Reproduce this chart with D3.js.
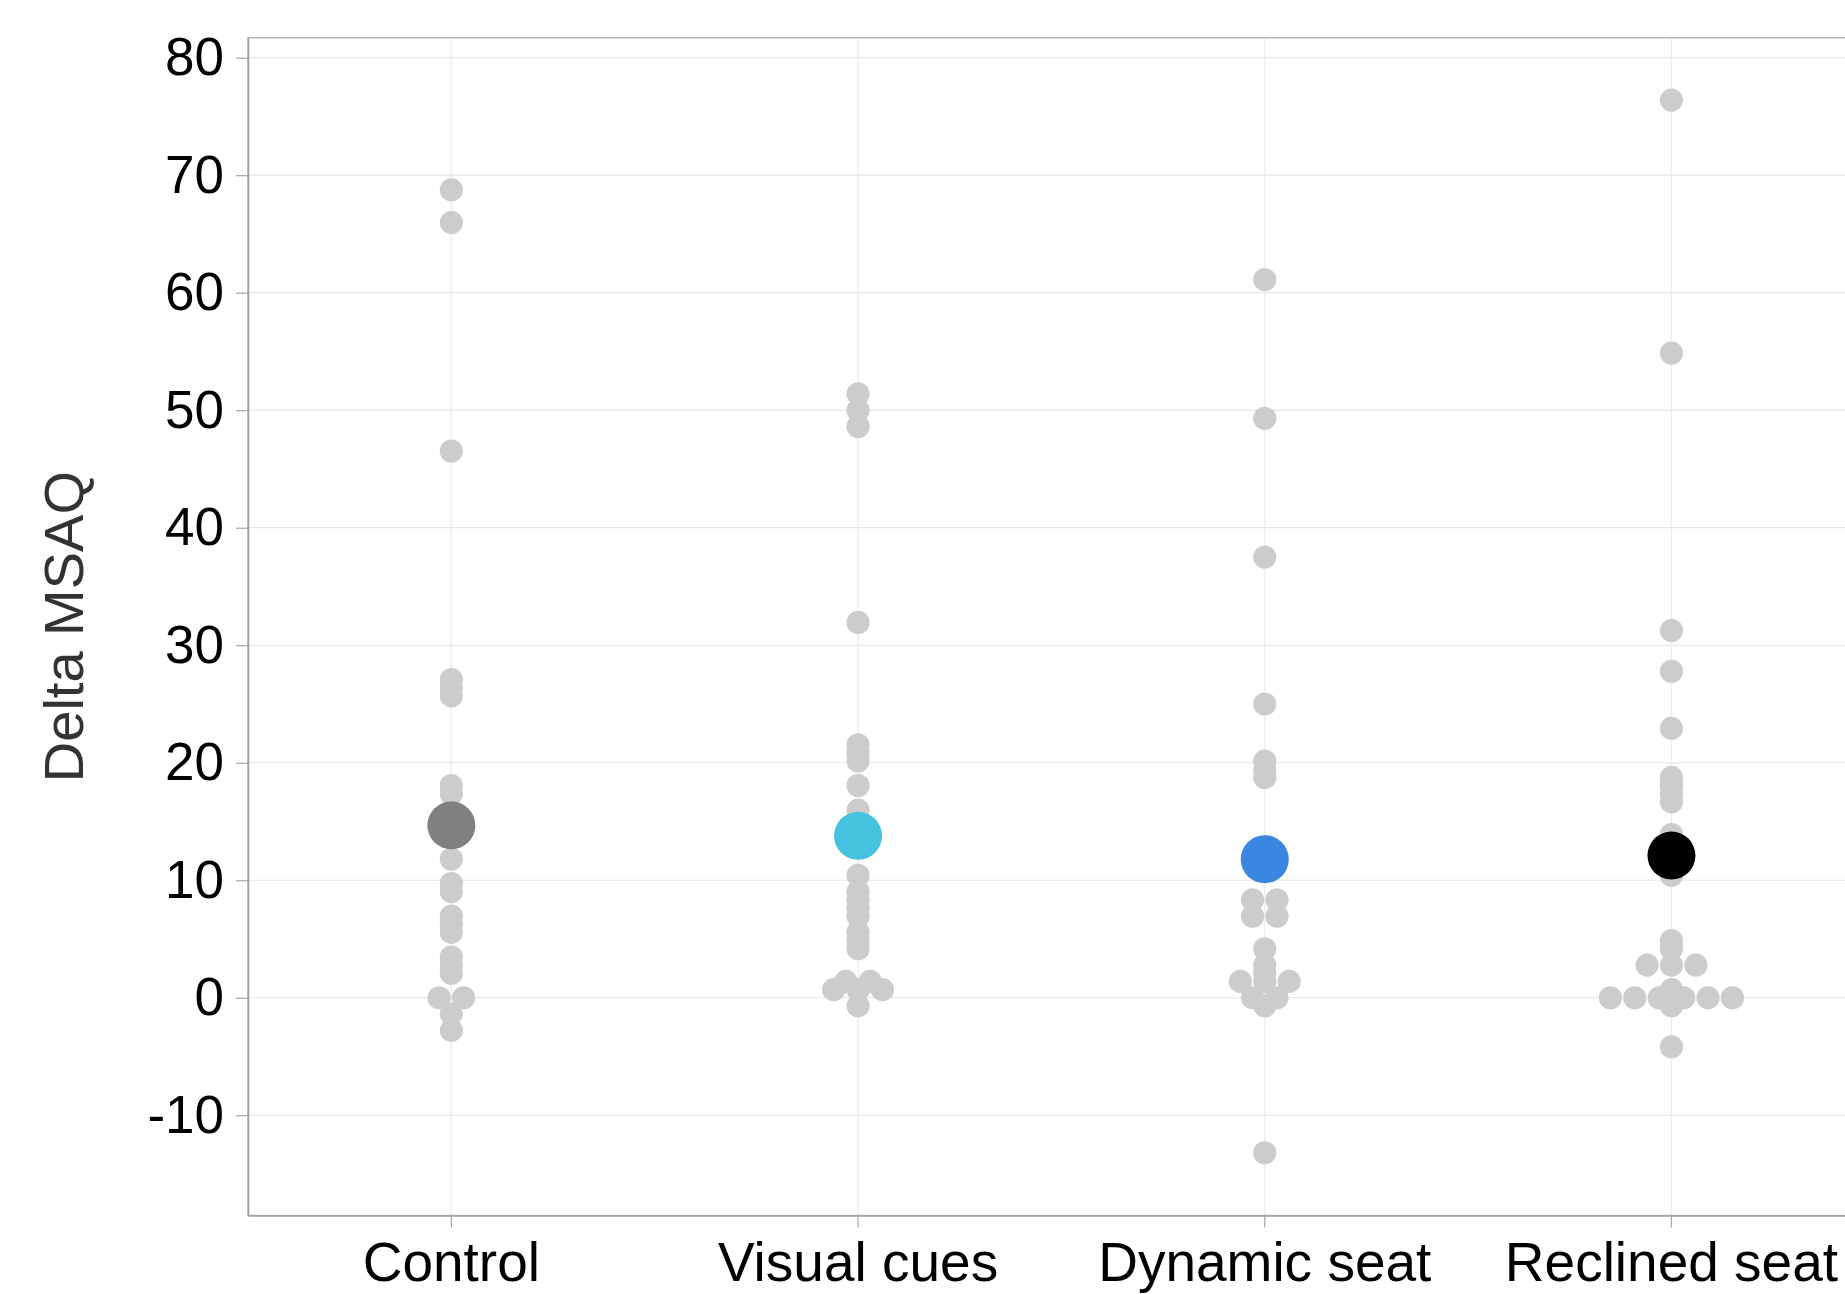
<!DOCTYPE html>
<html><head><meta charset="utf-8">
<script src="https://cdn.jsdelivr.net/npm/d3@7"></script>
<style>body{margin:0;background:#fff;overflow:hidden}</style>
</head><body>
<svg id="chart" width="1845" height="1294"></svg>
<script>
// ---- data (Delta MSAQ) ----
const categories = ["Control", "Visual cues", "Dynamic seat", "Reclined seat"];
const controlValues  = [68.75, 65.97, 46.53, 27.08, 26.39, 25.69, 18.06, 17.36, 11.81, 9.72, 9.03, 6.94, 6.25, 5.56, 3.47, 2.78, 2.08, 0, 0, -1.39, -2.78];
const visualValues   = [51.39, 50.0, 48.61, 31.94, 21.53, 20.83, 20.14, 18.06, 15.97, 10.42, 9.03, 8.33, 7.64, 6.94, 5.56, 4.86, 4.17, 1.39, 1.39, 0.69, 0.69, 0.69, -0.69];
const dynamicValues  = [61.11, 49.31, 37.5, 25.0, 20.14, 19.44, 18.75, 8.33, 8.33, 6.94, 6.94, 4.17, 2.78, 2.08, 1.39, 1.39, 1.39, 0, 0, -0.69, -13.19];
const reclinedValues = [76.39, 54.86, 31.25, 27.78, 22.92, 18.75, 18.06, 17.36, 16.67, 13.89, 10.42, 4.86, 4.17, 2.78, 2.78, 2.78, 0.69, 0, 0, 0, 0, 0, 0, -0.69, -4.17];
const meanValues = [14.67, 13.78, 11.79, 12.1];
const meanColors = ["#808080", "#45c2e0", "#3a86e0", "#000000"];
const yTicks = [-10, 0, 10, 20, 30, 40, 50, 60, 70, 80];
const yTitle = "Delta MSAQ";

const seriesValues = [controlValues, visualValues, dynamicValues, reclinedValues];

// ---- layout ----
const plotLeft = 248, plotTop = 37.7, plotBottom = 1215.5, step = 406.7;
const font = "'Liberation Sans', Arial, Helvetica, sans-serif";
const svg = d3.select("#chart");

const x = d3.scaleBand().domain(categories)
  .range([plotLeft, plotLeft + step * categories.length]).padding(0);
const y = d3.scaleLinear().domain([-18.53, 81.70]).range([plotBottom, plotTop]);
const xc = c => x(c) + x.bandwidth() / 2;
const plotRight = plotLeft + step * categories.length;

// grid
const grid = svg.append("g");
grid.selectAll("line.h").data(yTicks).join("line")
  .attr("x1", plotLeft).attr("x2", plotRight)
  .attr("y1", d => y(d)).attr("y2", d => y(d))
  .attr("stroke", "#e6e6e6").attr("stroke-width", 1.2);
grid.selectAll("line.v").data(categories).join("line")
  .attr("x1", d => xc(d)).attr("x2", d => xc(d))
  .attr("y1", plotTop).attr("y2", plotBottom)
  .attr("stroke", "#ececec").attr("stroke-width", 1.2);

// panel border
svg.append("rect").attr("x", plotLeft).attr("y", plotTop)
  .attr("width", plotRight - plotLeft).attr("height", plotBottom - plotTop)
  .attr("fill", "none").attr("stroke", "#b3b3b3").attr("stroke-width", 1.4);

// axes
const yAxis = svg.append("g").attr("transform", `translate(${plotLeft},0)`)
  .call(d3.axisLeft(y).tickValues(yTicks).tickSizeInner(12).tickSizeOuter(0).tickPadding(12));
yAxis.select(".domain").attr("stroke", "#a0a0a0").attr("stroke-width", 1.6);
yAxis.selectAll(".tick line").attr("stroke", "#a6a6a6").attr("stroke-width", 1.2);
yAxis.selectAll(".tick text").attr("font-family", font).attr("font-size", 53).attr("fill", "#000")
  .text(d => d < 0 ? "-" + Math.abs(d) : d);

const xAxis = svg.append("g").attr("transform", `translate(0,${plotBottom})`)
  .call(d3.axisBottom(x).tickSizeInner(12).tickSizeOuter(0).tickPadding(14));
xAxis.select(".domain").attr("stroke", "#a0a0a0").attr("stroke-width", 1.6);
xAxis.selectAll(".tick line").attr("stroke", "#a6a6a6").attr("stroke-width", 1.2);
xAxis.selectAll(".tick text").attr("font-family", font).attr("font-size", 55).attr("fill", "#000")
  .attr("dy", "0.71em");

// y title
svg.append("text")
  .attr("transform", `translate(82.5,${(plotTop + plotBottom) / 2}) rotate(-90)`)
  .attr("text-anchor", "middle").attr("font-family", font).attr("font-size", 56)
  .attr("fill", "#333").text(yTitle);

// points: identical values spread horizontally, centred on the category
const spacing = 24.4;
const pts = [];
seriesValues.forEach((vals, ci) => {
  const groups = d3.group(vals, v => v.toFixed(2));
  for (const [, arr] of groups) {
    arr.forEach((v, j) => pts.push({ cat: categories[ci], value: v, dx: (j - (arr.length - 1) / 2) * spacing }));
  }
});
svg.append("g").selectAll("circle").data(pts).join("circle")
  .attr("cx", d => xc(d.cat) + d.dx).attr("cy", d => y(d.value))
  .attr("r", 11.6).attr("fill", "#cccccc");

// means
svg.append("g").selectAll("circle").data(meanValues).join("circle")
  .attr("cx", (d, i) => xc(categories[i])).attr("cy", d => y(d))
  .attr("r", 24).attr("fill", (d, i) => meanColors[i]);
</script>
</body></html>
